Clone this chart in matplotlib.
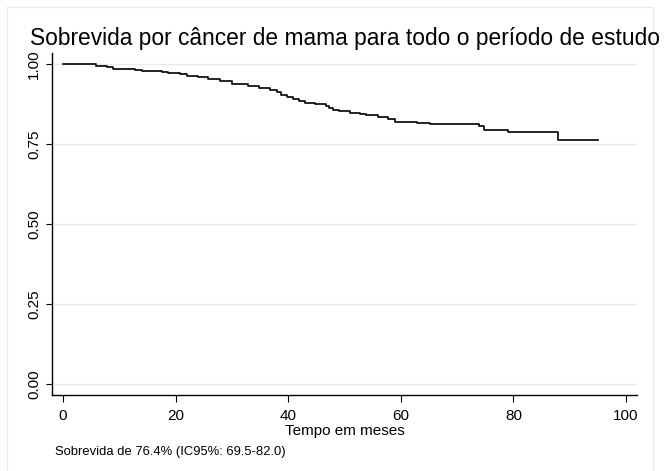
"""Kaplan-Meier style survival curve (breast cancer, whole study period)."""
import matplotlib
matplotlib.use('Agg')
import matplotlib.pyplot as plt
from matplotlib.patches import Rectangle

plt.rcParams['font.family'] = ['Liberation Sans', 'DejaVu Sans']

# survival estimate (months, proportion surviving)
months = [0, 5.8, 7.9, 8.9, 12.8, 14.0, 17.6, 18.7, 20.8, 22.0, 24.0, 25.8,
          27.9, 30.0, 32.9, 34.9, 36.8, 38.0, 38.8, 39.8, 40.8, 41.9, 43.0,
          44.8, 46.8, 47.3, 47.9, 49.1, 51.0, 52.8, 53.9, 55.9, 57.8, 59.0,
          62.8, 65.1, 73.9, 74.8, 79.0, 88.0, 95.1]
survival = [1.0, 0.994, 0.990, 0.985, 0.981, 0.978, 0.976, 0.973, 0.968,
            0.963, 0.959, 0.954, 0.947, 0.937, 0.932, 0.924, 0.918, 0.911,
            0.904, 0.898, 0.890, 0.883, 0.879, 0.875, 0.870, 0.864, 0.856,
            0.852, 0.847, 0.844, 0.840, 0.835, 0.828, 0.818, 0.815, 0.812,
            0.807, 0.794, 0.786, 0.764, 0.764]

x_ticks = [0, 20, 40, 60, 80, 100]
y_ticks = [0.0, 0.25, 0.50, 0.75, 1.0]
y_labels = ['0.00', '0.25', '0.50', '0.75', '1.00']

title = 'Sobrevida por câncer de mama para todo o período de estudo'
note = 'Sobrevida de 76.4% (IC95%: 69.5-82.0)'

fig = plt.figure(figsize=(6.64, 4.71), dpi=100)
ax = fig.add_axes([52 / 664, 1 - 395 / 471, 585 / 664, 342 / 471])

# light outer frame (graph region)
fig.add_artist(Rectangle((7 / 664, -0.1), 646 / 664, 1.1 - 7 / 471,
                         transform=fig.transFigure, fill=False,
                         edgecolor='#ebebeb', linewidth=1.0))

ax.step(months, survival, where='post', color='black', linewidth=1.2)

ax.set_xlim(-1.95, 101.95)
ax.set_ylim(-0.0344, 1.0344)
ax.set_xticks(x_ticks)
ax.set_yticks(y_ticks)
ax.set_yticklabels(y_labels, rotation=90, va='center')
ax.tick_params(labelsize=11, width=0.8, color='black')
ax.tick_params(axis='x', length=5, pad=5)
ax.tick_params(axis='y', length=4, pad=4)

ax.grid(axis='y', color='#eaeaea', linewidth=1.0)
ax.set_axisbelow(True)
for side in ['top', 'right']:
    ax.spines[side].set_visible(False)
for side in ['left', 'bottom']:
    ax.spines[side].set_linewidth(1.0)

ax.set_xlabel('Tempo em meses', fontsize=11, labelpad=1)
fig.text(30 / 664, 1 - 45 / 471, title, fontsize=16.4, ha='left',
         va='baseline')
fig.text(55 / 664, 1 - 455 / 471, note, fontsize=9.4, ha='left',
         va='baseline')

fig.savefig('out.png', dpi=100)
